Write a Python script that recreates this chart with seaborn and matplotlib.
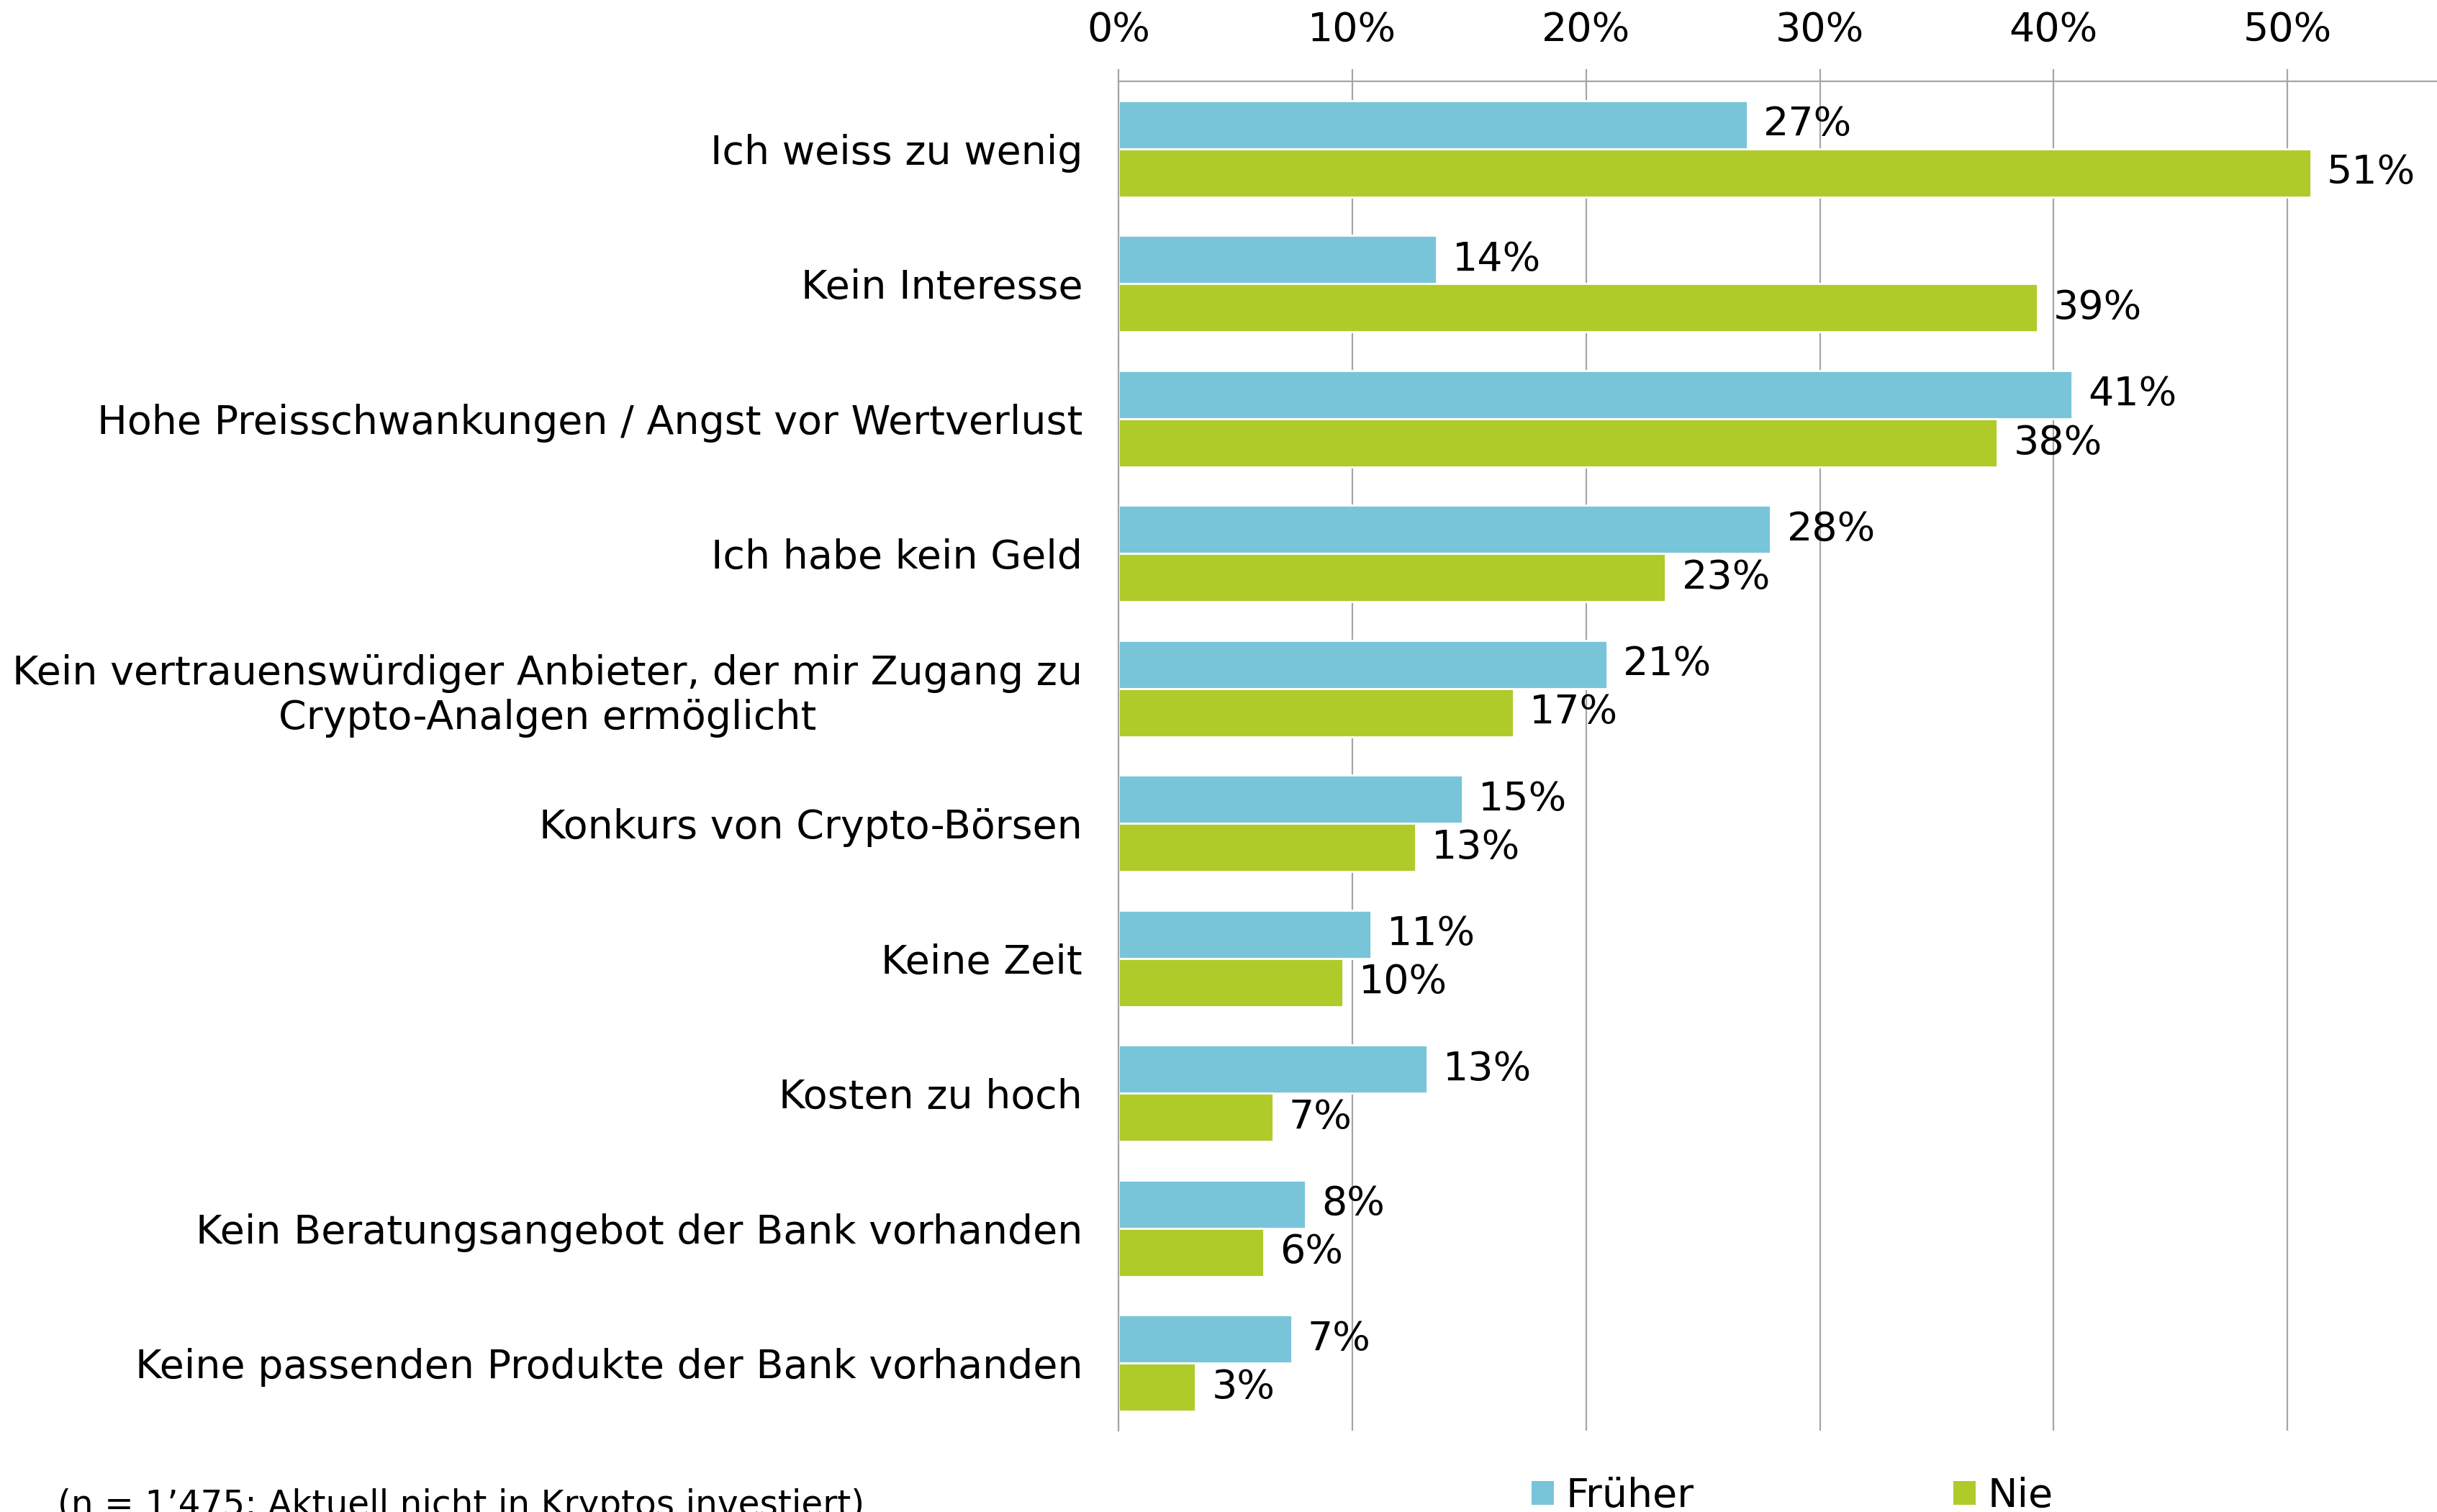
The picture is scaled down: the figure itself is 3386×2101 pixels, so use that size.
import pandas as pd
import matplotlib.pyplot as plt
import seaborn as sns
from matplotlib.patches import Patch
from matplotlib.ticker import FixedLocator, PercentFormatter

# reasons (y categories)
reasons = ['Ich weiss zu wenig',
           'Kein Interesse',
           'Hohe Preisschwankungen / Angst vor Wertverlust',
           'Ich habe kein Geld',
           'Kein vertrauenswürdiger Anbieter, der mir Zugang zu\nCrypto-Analgen ermöglicht',
           'Konkurs von Crypto-Börsen',
           'Keine Zeit',
           'Kosten zu hoch',
           'Kein Beratungsangebot der Bank vorhanden',
           'Keine passenden Produkte der Bank vorhanden']

frueher = [26.9, 13.6, 40.8, 27.9, 20.9, 14.7, 10.8, 13.2, 8.0, 7.4]
nie     = [51.0, 39.3, 37.6, 23.4, 16.9, 12.7, 9.6, 6.6, 6.2, 3.3]

series = ['Früher', 'Nie']
colors = ['#78C5D9', '#AFCB2A']

df = pd.DataFrame({'reason': reasons * 2,
                   'value': frueher + nie,
                   'series': ['Früher'] * len(reasons) + ['Nie'] * len(reasons)})

sns.set_style('white')
plt.rcParams['font.family'] = ['DejaVu Sans']
plt.rcParams['text.color'] = 'black'
plt.rcParams['xtick.labelcolor'] = 'black'
plt.rcParams['ytick.labelcolor'] = 'black'

fig = plt.figure(figsize=(16.93, 10.505), dpi=200)
ax = fig.add_axes([0.459, 0.0538, 0.541, 0.8924])

sns.barplot(data=df, y='reason', x='value', hue='series', orient='h',
            palette=colors, width=0.715, saturation=1, legend=False, ax=ax)

for cont in ax.containers:
    ax.bar_label(cont, labels=[f'{round(v)}%' for v in cont.datavalues],
                 padding=8, fontsize=20, color='black')

ax.set_xlim(0, 56.4)
ax.set_ylim(9.5, -0.5)
ax.set_xlabel('')
ax.set_ylabel('')

# x axis on top
ax.xaxis.tick_top()
ax.set_xticks(range(0, 60, 10))
ax.xaxis.set_major_formatter(PercentFormatter(decimals=0))
ax.tick_params(axis='x', length=6, width=0.8, color='#A6A6A6', pad=10, labelsize=20,
               labelcolor='black')
ax.grid(axis='x', color='#A6A6A6', linewidth=0.8)
ax.set_axisbelow(True)

# y axis: labels without marks, ticks at category boundaries
ax.tick_params(axis='y', which='major', length=0, pad=18, labelsize=20, labelcolor='black')
ax.yaxis.set_minor_locator(FixedLocator([i - 0.5 for i in range(len(reasons) + 1)]))
ax.tick_params(axis='y', which='minor', length=6, width=0.8, color='#A6A6A6')
for lbl in ax.get_yticklabels():
    lbl.set_multialignment('center')

for s in ['right', 'bottom']:
    ax.spines[s].set_visible(False)
for s in ['left', 'top']:
    ax.spines[s].set_color('#A6A6A6')
    ax.spines[s].set_linewidth(0.8)

handles = [Patch(facecolor=c, edgecolor='none', label=s) for c, s in zip(colors, series)]
fig.legend(handles=handles, loc='upper left', bbox_to_anchor=(2128 / 3386, 1 - 2052 / 2101),
           ncol=2, frameon=False, fontsize=20, handlelength=0.55, handleheight=0.55,
           handletextpad=0.3, columnspacing=6.5, borderpad=0, borderaxespad=0,
           labelcolor='black')

fig.text(80 / 3386, 1 - 2068 / 2101, '(n = 1’475; Aktuell nicht in Kryptos investiert)',
         fontsize=17.5, va='top', ha='left', color='black')

fig.savefig('out.png', dpi=200)
